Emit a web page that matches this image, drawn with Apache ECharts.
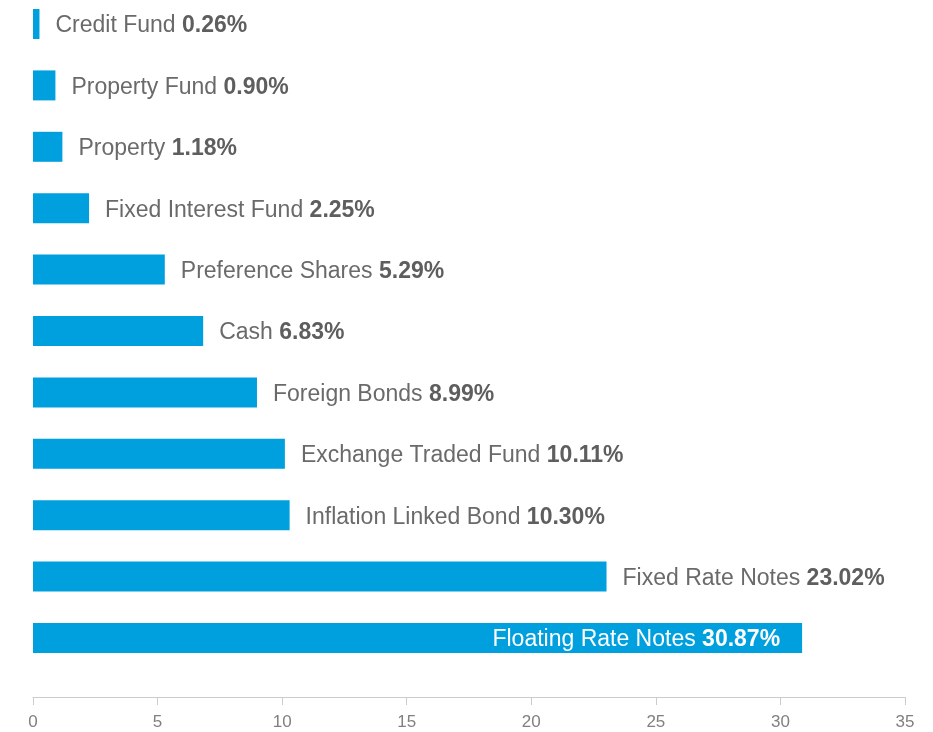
<!DOCTYPE html>
<html>
<head>
<meta charset="utf-8">
<script src="https://cdn.jsdelivr.net/npm/echarts@6/dist/echarts.min.js"></script>
<style>
  html, body { margin: 0; padding: 0; background: #fff; }
  #chart { width: 933px; height: 732px; }
</style>
</head>
<body>
<div id="chart"></div>
<script>
// asset allocation, top to bottom
const categories = [
  'Credit Fund', 'Property Fund', 'Property', 'Fixed Interest Fund',
  'Preference Shares', 'Cash', 'Foreign Bonds', 'Exchange Traded Fund',
  'Inflation Linked Bond', 'Fixed Rate Notes', 'Floating Rate Notes'
];
const values = [0.26, 0.90, 1.18, 2.25, 5.29, 6.83, 8.99, 10.11, 10.30, 23.02, 30.87];
const xTicks = [0, 5, 10, 15, 20, 25, 30, 35];

const FONT = '"Liberation Sans", Arial, sans-serif';
const BLUE = '#00a0df';

const chart = echarts.init(document.getElementById('chart'));

// biggest bar gets its label inside, white
const maxVal = Math.max(...values);
const barData = values.map((v, i) => {
  const inside = v === maxVal;
  return {
    value: v,
    label: {
      position: inside ? 'insideRight' : 'right',
      distance: inside ? 22 : 16,
      offset: [0, 2],
      rich: {
        n: { fontFamily: FONT, fontSize: 23, color: inside ? '#fff' : '#6a6a6a' },
        b: { fontFamily: FONT, fontSize: 23, fontWeight: 'bold', color: inside ? '#fff' : '#5e5e5e' }
      }
    }
  };
});

chart.setOption({
  animation: false,
  backgroundColor: '#fff',
  grid: { left: 33, right: 28, top: 24, bottom: 94, containLabel: false },
  xAxis: {
    type: 'value',
    min: 0,
    max: 35,
    interval: 5,
    offset: 59,
    axisLine: { show: true, lineStyle: { color: '#cccccc', width: 1 } },
    axisTick: { show: true, length: 8, lineStyle: { color: '#cccccc' } },
    splitLine: { show: false },
    axisLabel: {
      margin: 17,
      color: '#808080',
      fontFamily: FONT,
      fontSize: 17,
      formatter: (v) => xTicks.includes(v) ? String(v) : ''
    }
  },
  yAxis: {
    type: 'category',
    data: categories,
    inverse: true,
    boundaryGap: false,
    axisLine: { show: false },
    axisTick: { show: false },
    axisLabel: { show: false }
  },
  series: [{
    type: 'bar',
    barWidth: 30,
    itemStyle: { color: BLUE },
    label: {
      show: true,
      formatter: (p) => '{n|' + categories[p.dataIndex] + ' }{b|' + values[p.dataIndex].toFixed(2) + '%}'
    },
    data: barData
  }]
});
</script>
</body>
</html>
